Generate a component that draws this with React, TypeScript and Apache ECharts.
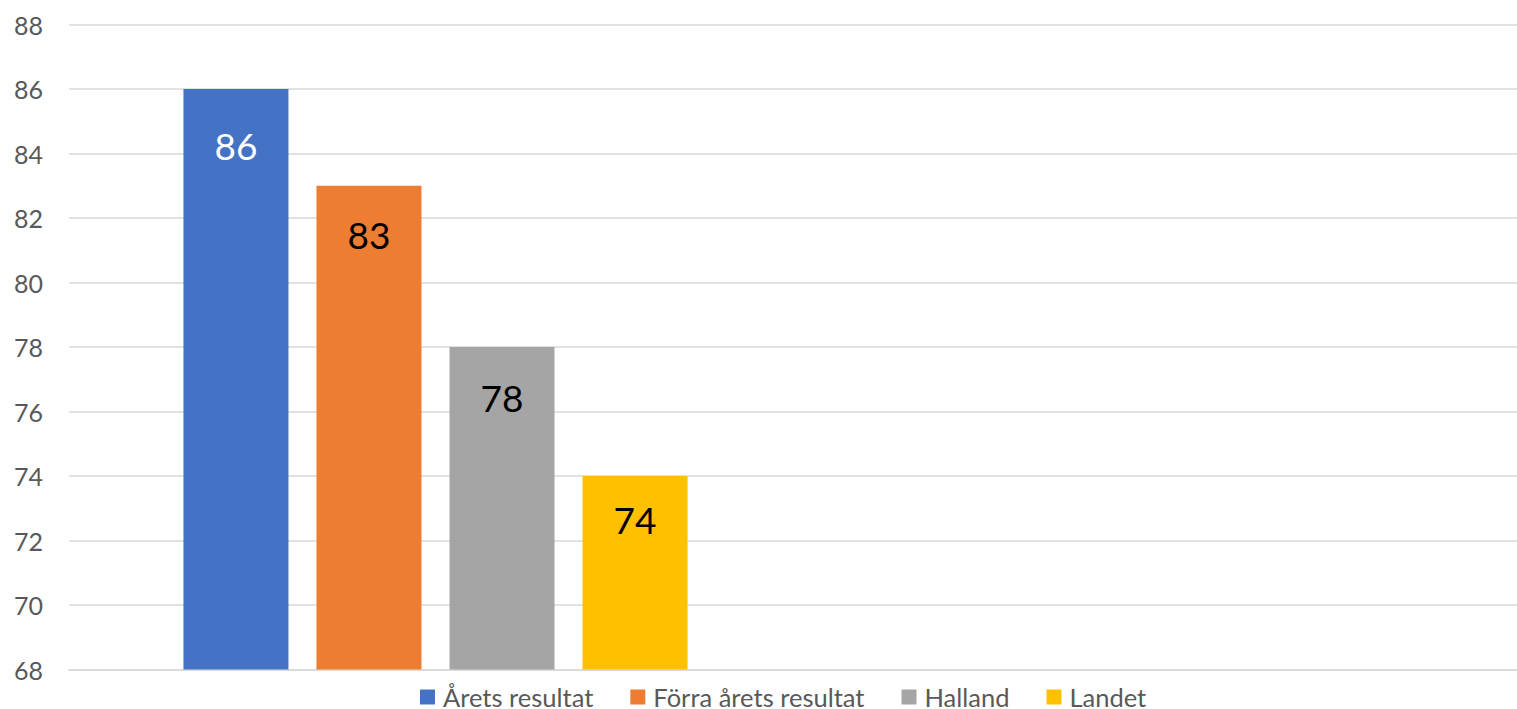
import React, { useEffect, useRef } from "react";
import * as echarts from "echarts";

const categories = ["", " "];
const seriesNames = ["Årets resultat", "Förra årets resultat", "Halland", "Landet"];
const seriesValues = [86, 83, 78, 74];
const seriesColors = ["#4472C4", "#ED7D31", "#A5A5A5", "#FFC000"];
const labelColors = ["#FFFFFF", "#000000", "#000000", "#000000"];
const labelDistances = [38, 30, 32, 25];
const yTicks = { min: 68, max: 88, interval: 2 };

export default function App() {
  const ref = useRef<HTMLDivElement>(null);
  useEffect(() => {
    if (!ref.current) return;
    const chart = echarts.init(ref.current, undefined, { renderer: "svg" });
    const font = "Lato, 'Open Sans', sans-serif";
    chart.setOption({
      animation: false,
      textStyle: { fontFamily: font },
      grid: { left: 69, top: 24.5, right: 0, bottom: 39.5, containLabel: false },
      legend: {
        top: 679,
        left: 415,
        padding: 5,
        itemWidth: 15,
        itemHeight: 15,
        itemGap: 37,
        icon: "rect",
        textStyle: { fontSize: 25.5, color: "#595959", fontFamily: font, padding: [0, 0, 0, 3] },
        data: seriesNames,
      },
      xAxis: {
        type: "category",
        data: categories,
        axisLine: { show: true, lineStyle: { color: "#D9D9D9", width: 1.5 } },
        axisTick: { show: false },
        axisLabel: { show: false },
      },
      yAxis: {
        type: "value",
        min: yTicks.min,
        max: yTicks.max,
        interval: yTicks.interval,
        axisLine: { show: false },
        axisTick: { show: false },
        axisLabel: { color: "#595959", fontSize: 25, margin: 26, fontFamily: font },
        splitLine: { lineStyle: { color: "#D9D9D9", width: 1.5 } },
      },
      series: seriesNames.map((name, i) => ({
        name,
        type: "bar",
        barWidth: 105,
        barGap: "26.7%",
        itemStyle: { color: seriesColors[i] },
        label: {
          show: true,
          position: "insideTop",
          distance: labelDistances[i],
          fontSize: 37,
          color: labelColors[i],
          fontFamily: font,
        },
        data: [seriesValues[i], null],
      })),
    });
    return () => chart.dispose();
  }, []);
  return (
    <div style={{ position: "fixed", left: 0, top: 0, width: 1517, height: 709, overflow: "hidden", background: "#fff" }}>
      <div ref={ref} style={{ width: 1535, height: 709 }} />
    </div>
  );
}
